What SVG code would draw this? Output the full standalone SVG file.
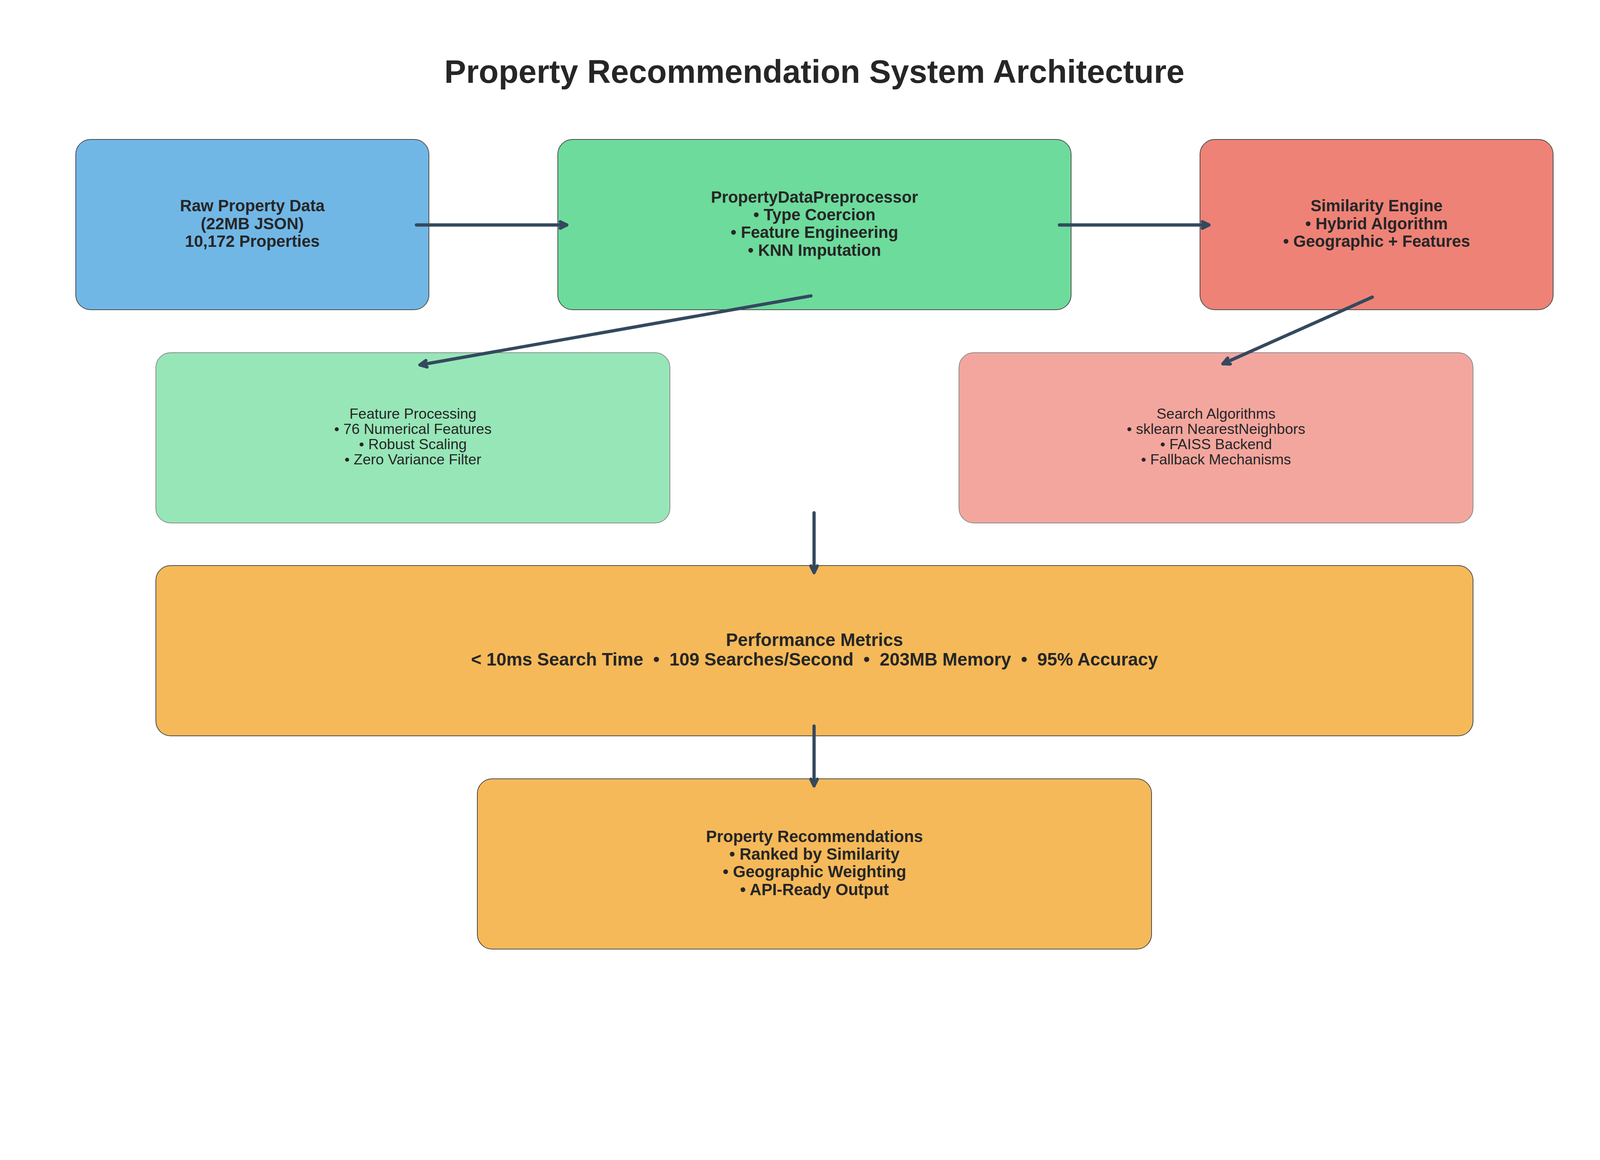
<svg xmlns="http://www.w3.org/2000/svg" width="4170" height="2970" viewBox="0 0 4170 2970">
<style>
text{font-family:"Liberation Sans",Arial,Helvetica,sans-serif;fill:#262626;text-anchor:middle}
.title{font-size:83.3px;font-weight:bold}
.b{font-size:41.67px;font-weight:bold}
.bm{font-size:45.83px;font-weight:bold}
.n{font-size:37.5px}
.box{stroke:#4d4d4d;stroke-width:2}
.lbox{stroke:#8c8c8c;stroke-width:2}
.conn{stroke:#34495e;stroke-width:8.3;fill:none;stroke-linecap:round;marker-end:url(#head)}
</style>
<defs>
<marker id="head" markerUnits="userSpaceOnUse" orient="auto" refX="0" refY="0" markerWidth="40" markerHeight="40" overflow="visible">
<path d="M -17 -8.3 L 0 0 L -17 8.3" fill="none" stroke="#34495e" stroke-width="8.3" stroke-linecap="round" stroke-linejoin="round"/>
</marker>
</defs>
<rect width="4170" height="2970" fill="#ffffff"/>
<text class="title" x="2085" y="212">Property Recommendation System Architecture</text>

<g id="raw-data">
<rect class="box" x="194" y="357" width="904" height="436" rx="38" fill="#71b7e6"/>
<text class="b" x="646"><tspan x="646" y="541.2">Raw Property Data</tspan><tspan x="646" y="586.5">(22MB JSON)</tspan><tspan x="646" y="631.8">10,172 Properties</tspan></text>
</g>
<g id="preprocessor">
<rect class="box" x="1428" y="357" width="1314" height="436" rx="38" fill="#6ddb9c"/>
<text class="b" x="2085"><tspan x="2085" y="518.6">PropertyDataPreprocessor</tspan><tspan x="2085" y="563.9">• Type Coercion</tspan><tspan x="2085" y="609.2">• Feature Engineering</tspan><tspan x="2085" y="654.5">• KNN Imputation</tspan></text>
</g>
<g id="similarity-engine">
<rect class="box" x="3072" y="357" width="904" height="436" rx="38" fill="#ee8277"/>
<text class="b" x="3524"><tspan x="3524" y="541.2">Similarity Engine</tspan><tspan x="3524" y="586.5">• Hybrid Algorithm</tspan><tspan x="3524" y="631.8">• Geographic + Features</tspan></text>
</g>
<g id="feature-processing">
<rect class="lbox" x="399" y="903" width="1316" height="436" rx="38" fill="#97e6b8"/>
<text class="n" x="1057"><tspan x="1057" y="1072">Feature Processing</tspan><tspan x="1057" y="1111">• 76 Numerical Features</tspan><tspan x="1057" y="1150">• Robust Scaling</tspan><tspan x="1057" y="1189">• Zero Variance Filter</tspan></text>
</g>
<g id="search-algorithms">
<rect class="lbox" x="2455" y="903" width="1316" height="436" rx="38" fill="#f3a69e"/>
<text class="n" x="3113"><tspan x="3113" y="1072">Search Algorithms</tspan><tspan x="3113" y="1111">• sklearn NearestNeighbors</tspan><tspan x="3113" y="1150">• FAISS Backend</tspan><tspan x="3113" y="1189">• Fallback Mechanisms</tspan></text>
</g>
<g id="performance-metrics">
<rect class="box" x="399" y="1448" width="3372" height="436" rx="38" fill="#f5b959"/>
<text class="bm" x="2085"><tspan x="2085" y="1653.5">Performance Metrics</tspan><tspan x="2085" y="1704" xml:space="preserve">&lt; 10ms Search Time  •  109 Searches/Second  •  203MB Memory  •  95% Accuracy</tspan></text>
</g>
<g id="recommendations">
<rect class="box" x="1222" y="1994" width="1726" height="436" rx="38" fill="#f5b959"/>
<text class="b" x="2085"><tspan x="2085" y="2155.5">Property Recommendations</tspan><tspan x="2085" y="2200.9">• Ranked by Similarity</tspan><tspan x="2085" y="2246.2">• Geographic Weighting</tspan><tspan x="2085" y="2291.5">• API-Ready Output</tspan></text>
</g>

<g id="connectors">
<path class="conn" d="M 1066 576 L 1451 576"/>
<path class="conn" d="M 2712 576 L 3095 576"/>
<path class="conn" d="M 2076 757.5 L 1075 934.3"/>
<path class="conn" d="M 3513.3 760.6 L 3130.7 931.4"/>
<path class="conn" d="M 2084 1313 L 2084 1466"/>
<path class="conn" d="M 2084 1859 L 2084 2012"/>
</g>
</svg>
